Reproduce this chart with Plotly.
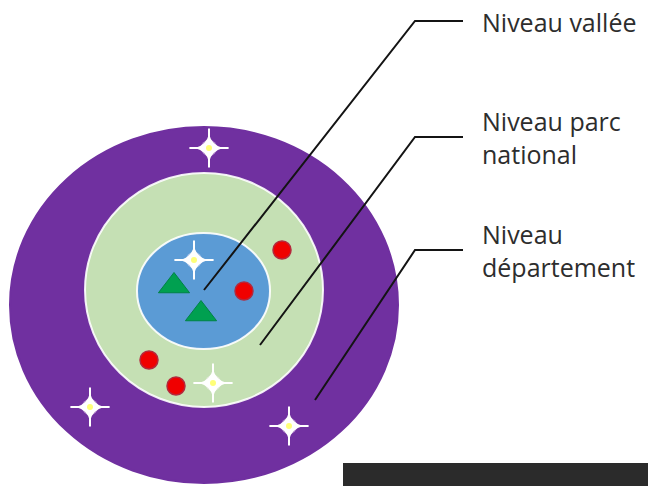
import plotly.graph_objs as go

# Concentric levels (pixel space of the picture, y downwards)
ring_names = ['département', 'parc national', 'vallée']
ring_cx = [204, 204, 203.5]
ring_cy = [305, 290, 291]
ring_rx = [194, 119, 66.5]
ring_ry = [178, 117, 58]
ring_colors = ['rgb(112,48,160)', 'rgb(197,224,180)', 'rgb(91,155,213)']

# Symbols inside the rings
red_x = [282, 244, 149, 176]
red_y = [250, 291, 360, 386]
tri_x = [174, 201]
tri_y = [286, 314]
star_x = [209, 194, 213, 90, 289]
star_y = [148, 260, 383, 407, 426]

# Leader lines: anchor inside the ring -> elbow -> label
lead_x0 = [204, 260, 315]
lead_y0 = [290, 345, 400]
elbow_x = 415
lead_y1 = [21, 137, 250]
lead_x2 = 463
labels = ['Niveau vallée', 'Niveau parc<br>national', 'Niveau<br>département']
label_y = [22, 137, 250]

# the page body adds an 8px margin, so the axes start at 8
OFF = 8


def create_diagram():
    fig = go.Figure()

    shapes = []
    for i, (cx, cy, rx, ry, col) in enumerate(zip(ring_cx, ring_cy, ring_rx, ring_ry, ring_colors)):
        shapes.append(dict(
            type='circle', xref='x', yref='y',
            x0=cx - rx, x1=cx + rx, y0=cy - ry, y1=cy + ry,
            fillcolor=col,
            line=dict(color=col if i == 0 else 'rgba(255,255,255,0.9)', width=2),
            layer='below'
        ))
    # dark bar at the bottom right
    shapes.append(dict(type='rect', xref='x', yref='y', x0=343, x1=700,
                       y0=463, y1=500, fillcolor='rgb(43,43,43)', line=dict(width=0)))

    fig.add_trace(go.Scatter(
        x=red_x, y=red_y, mode='markers',
        marker=dict(symbol='circle', size=18, color='rgb(240,0,0)',
                    line=dict(color='rgb(180,40,60)', width=1.5)),
        hoverinfo='skip'
    ))

    fig.add_trace(go.Scatter(
        x=tri_x, y=tri_y, mode='markers',
        marker=dict(symbol='triangle-up', size=27, color='rgb(0,160,80)',
                    line=dict(color='rgb(0,130,70)', width=1)),
        hoverinfo='skip'
    ))

    # sparkles: soft glow, thin white cross, small star body, yellow core
    fig.add_trace(go.Scatter(
        x=star_x, y=star_y, mode='markers',
        marker=dict(symbol='circle', size=16, color='rgba(255,240,255,0.45)', line=dict(width=0)),
        hoverinfo='skip'
    ))
    fig.add_trace(go.Scatter(
        x=star_x, y=star_y, mode='markers',
        marker=dict(symbol='cross-thin', size=28, line=dict(color='white', width=2)),
        hoverinfo='skip'
    ))
    fig.add_trace(go.Scatter(
        x=star_x, y=star_y, mode='markers',
        marker=dict(symbol='star-diamond', size=20, color='white', line=dict(width=0)),
        hoverinfo='skip'
    ))
    fig.add_trace(go.Scatter(
        x=star_x, y=star_y, mode='markers',
        marker=dict(symbol='circle', size=6, color='rgb(255,255,120)', line=dict(width=0)),
        hoverinfo='skip'
    ))

    for x0, y0, y1 in zip(lead_x0, lead_y0, lead_y1):
        fig.add_trace(go.Scatter(
            x=[x0, elbow_x, lead_x2], y=[y0, y1, y1], mode='lines',
            line=dict(color='rgb(20,20,20)', width=2),
            hoverinfo='skip'
        ))

    for txt, y in zip(labels, label_y):
        fig.add_annotation(
            x=480, y=y, text=txt, showarrow=False,
            xanchor='left', yanchor='middle', align='left',
            font=dict(family='Open Sans', size=25, color='rgb(45,45,45)')
        )

    fig.update_layout(
        width=656, height=486,
        margin=dict(l=0, r=0, t=0, b=0),
        showlegend=False,
        shapes=shapes,
        plot_bgcolor='white', paper_bgcolor='white',
        xaxis=dict(range=[OFF, 656 + OFF], visible=False, fixedrange=True),
        yaxis=dict(range=[486 + OFF, OFF], visible=False, fixedrange=True),
    )
    return fig


fig = create_diagram()
fig.write_html("out.html")
